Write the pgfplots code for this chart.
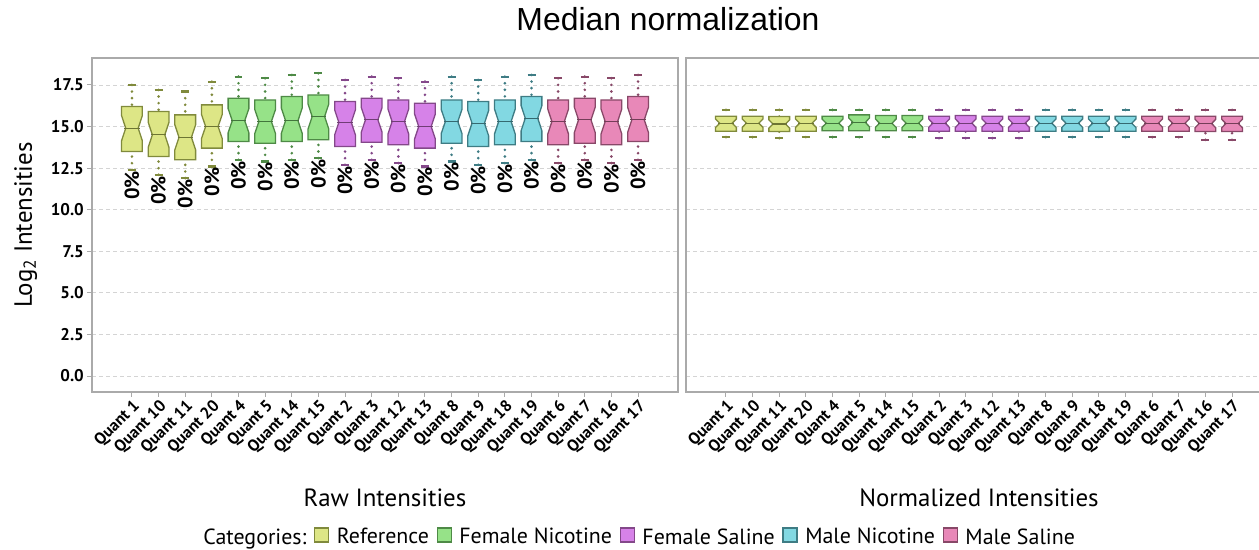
\documentclass[border=0pt]{standalone}
\usepackage{pgfplots}
\pgfplotsset{compat=1.18}
\usepgfplotslibrary{statistics}
\usepackage{fontspec}
\setmainfont{PT Sans}
\newfontfamily\titlefont{Liberation Sans}

\definecolor{refF}{RGB}{221,230,134}
\definecolor{refE}{RGB}{128,138,60}
\definecolor{fnF}{RGB}{150,226,136}
\definecolor{fnE}{RGB}{78,138,70}
\definecolor{fsF}{RGB}{214,130,232}
\definecolor{fsE}{RGB}{132,72,138}
\definecolor{mnF}{RGB}{130,216,226}
\definecolor{mnE}{RGB}{62,124,132}
\definecolor{msF}{RGB}{232,136,184}
\definecolor{msE}{RGB}{136,72,104}
\definecolor{frame}{RGB}{170,170,170}
\definecolor{gridc}{RGB}{212,212,212}

\newcommand\fs[1]{\fontsize{#1}{#1}\selectfont}

\pgfplotsset{
  boxplot/every cap/.style={},
  boxplot/draw direction=y,
  boxplot/draw/box/.code={%
    \pgfmathsetmacro\bxlq{\pgfplotsboxplotvalue{lower quartile}}%
    \pgfmathsetmacro\bxuq{\pgfplotsboxplotvalue{upper quartile}}%
    \pgfmathsetmacro\bxmd{\pgfplotsboxplotvalue{median}}%
    \pgfmathsetmacro\bxnlo{\bxmd-0.28*(\bxuq-\bxlq)}%
    \pgfmathsetmacro\bxnhi{\bxmd+0.28*(\bxuq-\bxlq)}%
    \draw[/pgfplots/boxplot/every box/.try]
      (boxplot box cs:\bxlq,0) -- (boxplot box cs:\bxnlo,0) -- (boxplot box cs:\bxmd,0.2)
      -- (boxplot box cs:\bxnhi,0) -- (boxplot box cs:\bxuq,0) -- (boxplot box cs:\bxuq,1)
      -- (boxplot box cs:\bxnhi,1) -- (boxplot box cs:\bxmd,0.8) -- (boxplot box cs:\bxnlo,1)
      -- (boxplot box cs:\bxlq,1) -- cycle;
  },
  boxplot/draw/median/.code={%
    \draw[/pgfplots/boxplot/every median/.try]
      (boxplot box cs:\pgfplotsboxplotvalue{median},0.13) --
      (boxplot box cs:\pgfplotsboxplotvalue{median},0.87);
  },
  boxplot/draw/lower whisker/.code={%
    \draw[/pgfplots/boxplot/every whisker/.try]
      (boxplot cs:\pgfplotsboxplotvalue{lower whisker}) --
      (boxplot cs:\pgfplotsboxplotvalue{lower quartile});
    \draw[/pgfplots/boxplot/every cap/.try]
      (boxplot whisker cs:\pgfplotsboxplotvalue{lower whisker},0) --
      (boxplot whisker cs:\pgfplotsboxplotvalue{lower whisker},1);
  },
  boxplot/draw/upper whisker/.code={%
    \draw[/pgfplots/boxplot/every whisker/.try]
      (boxplot cs:\pgfplotsboxplotvalue{upper whisker}) --
      (boxplot cs:\pgfplotsboxplotvalue{upper quartile});
    \draw[/pgfplots/boxplot/every cap/.try]
      (boxplot whisker cs:\pgfplotsboxplotvalue{upper whisker},0) --
      (boxplot whisker cs:\pgfplotsboxplotvalue{upper whisker},1);
  },
  panel/.style={
    scale only axis, width=586bp, height=334bp,
    xmin=-1.5, xmax=20.5, ymin=-0.96, ymax=19.12,
    xtick={0,...,19},
    xticklabels={Quant 1,Quant 10,Quant 11,Quant 20,Quant 4,Quant 5,Quant 14,Quant 15,Quant 2,Quant 3,Quant 12,Quant 13,Quant 8,Quant 9,Quant 18,Quant 19,Quant 6,Quant 7,Quant 16,Quant 17},
    xticklabel style={rotate=45, anchor=north east, font=\bfseries\fs{16.5}, inner sep=1bp},
    ytick={0,2.5,...,17.5},
    yticklabel style={font=\bfseries\fs{17}, inner sep=3bp},
    /pgf/number format/.cd, fixed, fixed zerofill, precision=1, assume math mode=true, /pgfplots/.cd,
    ymajorgrids,
    major grid style={draw=gridc, dash pattern=on 4bp off 3bp, line width=0.8bp},
    axis line style={draw=frame, line width=1.5bp},
    tick style={draw=frame, line width=1bp},
    major tick length=5bp, tick align=outside,
    xtick pos=bottom, ytick pos=left,
    label style={font=\fs{25}},
    xlabel style={at={(axis description cs:0.5,-0.317)}, anchor=center},
    clip=false,
  },
}
% pos lw lq med uq uw colour
\newcommand\bx[7]{\addplot[forget plot,
   boxplot prepared={draw position=#1, lower whisker=#2, lower quartile=#3, median=#4, upper quartile=#5, upper whisker=#6, box extend=0.78, whisker extend=0.3},
   boxplot/every box/.style={fill=#7F, draw=#7E, line width=1.3bp, line join=miter},
   boxplot/every median/.style={draw=#7E!85!black, line width=1.2bp},
   boxplot/every whisker/.style={draw=#7E, line width=2.9bp, dash pattern=on 0bp off 6.6bp, line cap=round},
   boxplot/every cap/.style={draw=#7E, line width=2.2bp}] coordinates {};}

\begin{document}
\begin{tikzpicture}[x=1bp,y=1bp]
\path[use as bounding box] (0,0) rectangle (1259,550);
\clip (0,0) rectangle (1259,550);

\node[font=\titlefont\fs{32}, anchor=base] at (668,519) {Median normalization};

\begin{axis}[panel, at={(92bp,158bp)}, anchor=south west,
  xlabel={Raw Intensities},
  ylabel={Log\textsubscript{2} Intensities},
  ylabel style={at={(axis description cs:-0.113,0.5)}, anchor=center, rotate=0},
  legend style={at={(axis description cs:0.932,-0.434)}, anchor=center, draw=none, fill=none,
    legend columns=-1, font=\fs{22}, inner sep=0pt,
    /tikz/every even column/.append style={column sep=2bp},
    /tikz/every odd column/.append style={column sep=2bp}},
  legend cell align=left,
]
\bx{0}{12.4}{13.5}{14.9}{16.2}{17.5}{ref}
\bx{1}{12.1}{13.2}{14.5}{15.9}{17.2}{ref}
\bx{2}{11.9}{13.0}{14.35}{15.7}{17.1}{ref}
\bx{3}{12.6}{13.7}{15.0}{16.3}{17.7}{ref}
\bx{4}{13.0}{14.1}{15.35}{16.7}{18.0}{fn}
\bx{5}{12.9}{14.0}{15.3}{16.6}{17.9}{fn}
\bx{6}{13.0}{14.1}{15.35}{16.8}{18.1}{fn}
\bx{7}{13.1}{14.2}{15.6}{16.9}{18.2}{fn}
\bx{8}{12.7}{13.8}{15.25}{16.5}{17.8}{fs}
\bx{9}{13.0}{14.05}{15.4}{16.7}{18.0}{fs}
\bx{10}{12.8}{13.9}{15.3}{16.6}{17.9}{fs}
\bx{11}{12.6}{13.7}{15.0}{16.4}{17.7}{fs}
\bx{12}{12.9}{14.0}{15.3}{16.6}{18.0}{mn}
\bx{13}{12.7}{13.8}{15.2}{16.5}{17.8}{mn}
\bx{14}{12.8}{13.9}{15.3}{16.6}{18.0}{mn}
\bx{15}{13.0}{14.1}{15.5}{16.8}{18.1}{mn}
\bx{16}{12.8}{13.9}{15.3}{16.6}{17.9}{ms}
\bx{17}{13.0}{14.0}{15.4}{16.7}{18.0}{ms}
\bx{18}{12.8}{13.9}{15.3}{16.6}{17.9}{ms}
\bx{19}{13.0}{14.1}{15.4}{16.8}{18.1}{ms}
\addplot[forget plot, only marks, mark=none, nodes near coords={0\%},
  every node near coord/.append style={rotate=90, anchor=east, font=\bfseries\fs{20.5}, inner sep=1bp, text=black}]
  coordinates {(0,12.4) (1,12.1) (2,11.9) (3,12.6) (4,13.0) (5,12.9) (6,13.0) (7,13.1) (8,12.7) (9,13.0)
               (10,12.8) (11,12.6) (12,12.9) (13,12.7) (14,12.8) (15,13.0) (16,12.8) (17,13.0) (18,12.8) (19,13.0)};
\pgfplotsset{legend image code/.code={\path (0bp,0bp); \draw[#1, line width=1.3bp] (4bp,-5bp) rectangle (18bp,9bp); \path (22bp,0bp);}}
\addlegendimage{empty legend}\addlegendentry{Categories:}
\addlegendimage{fill=refF, draw=refE}\addlegendentry{Reference}
\addlegendimage{fill=fnF, draw=fnE}\addlegendentry{Female Nicotine}
\addlegendimage{fill=fsF, draw=fsE}\addlegendentry{Female Saline}
\addlegendimage{fill=mnF, draw=mnE}\addlegendentry{Male Nicotine}
\addlegendimage{fill=msF, draw=msE}\addlegendentry{Male Saline}
\end{axis}

\begin{axis}[panel, at={(686bp,158bp)}, anchor=south west,
  xlabel={Normalized Intensities},
  yticklabels={}, ytick style={draw=none},
]
\bx{0}{14.36}{14.72}{15.2}{15.62}{16.0}{ref}
\bx{1}{14.36}{14.72}{15.2}{15.62}{16.0}{ref}
\bx{2}{14.3}{14.7}{15.15}{15.6}{16.0}{ref}
\bx{3}{14.36}{14.72}{15.2}{15.62}{16.0}{ref}
\bx{4}{14.36}{14.75}{15.2}{15.62}{16.0}{fn}
\bx{5}{14.36}{14.75}{15.25}{15.7}{16.0}{fn}
\bx{6}{14.36}{14.75}{15.2}{15.66}{16.0}{fn}
\bx{7}{14.36}{14.75}{15.2}{15.66}{16.0}{fn}
\bx{8}{14.3}{14.72}{15.2}{15.62}{16.0}{fs}
\bx{9}{14.3}{14.72}{15.2}{15.66}{16.0}{fs}
\bx{10}{14.3}{14.72}{15.2}{15.62}{16.0}{fs}
\bx{11}{14.3}{14.72}{15.2}{15.62}{16.0}{fs}
\bx{12}{14.36}{14.72}{15.2}{15.62}{16.0}{mn}
\bx{13}{14.36}{14.72}{15.2}{15.62}{16.0}{mn}
\bx{14}{14.36}{14.72}{15.2}{15.62}{16.0}{mn}
\bx{15}{14.36}{14.72}{15.2}{15.62}{16.0}{mn}
\bx{16}{14.36}{14.72}{15.2}{15.62}{16.0}{ms}
\bx{17}{14.36}{14.72}{15.2}{15.62}{16.0}{ms}
\bx{18}{14.2}{14.7}{15.18}{15.62}{16.0}{ms}
\bx{19}{14.2}{14.7}{15.18}{15.62}{16.0}{ms}
\end{axis}
\end{tikzpicture}
\end{document}
